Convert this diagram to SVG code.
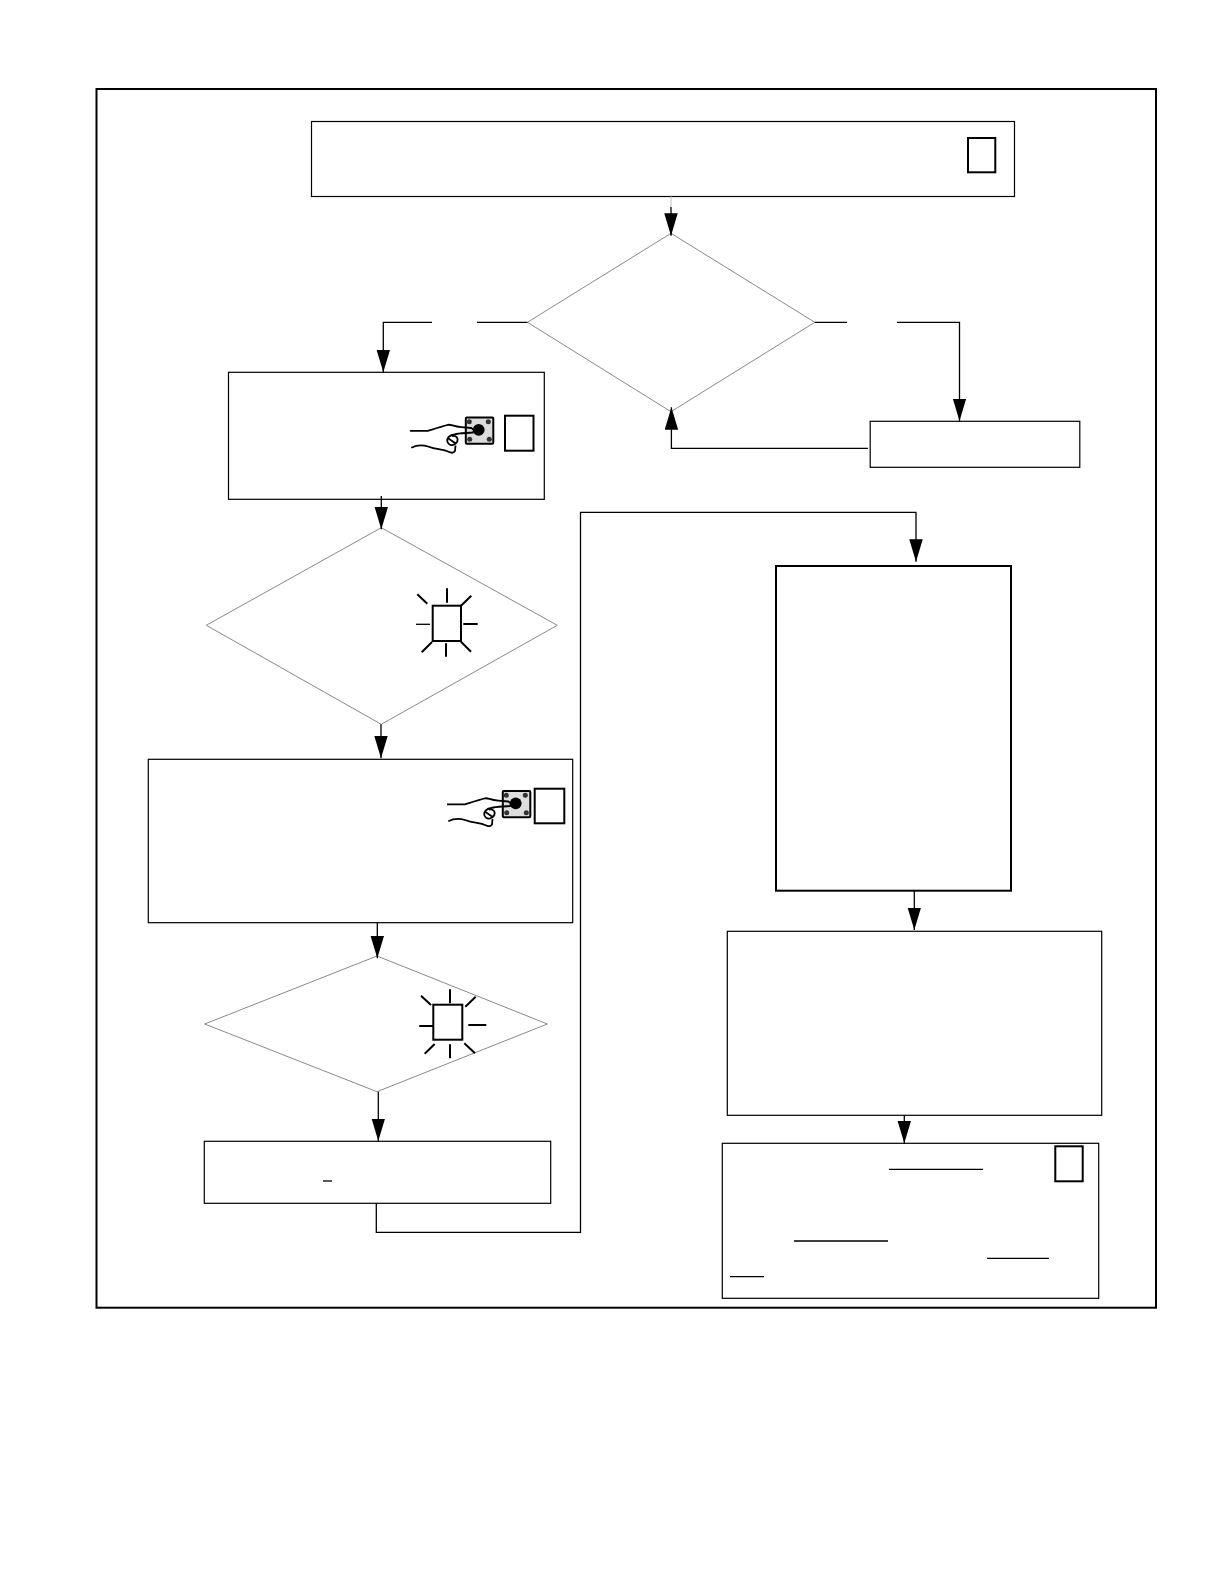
<svg xmlns="http://www.w3.org/2000/svg" width="1225" height="1585" viewBox="0 0 1225 1585">
<style>
.n{fill:#fff;stroke:#000;stroke-width:1.200}
.d{fill:#fff;stroke:#8a8a8a;stroke-width:1}
.c{fill:none;stroke:#000;stroke-width:1.300}
.b{fill:#fff;stroke:#000;stroke-width:2}
.u{stroke:#000;stroke-width:1.300;fill:none}
.y{stroke:#000;stroke-width:2;fill:none}
</style>
<defs>
<marker id="a" markerUnits="userSpaceOnUse" markerWidth="23" markerHeight="14" refX="22.500" refY="6.750" orient="auto" viewBox="0 0 23 14"><path d="M0 0L22.500 6.750L0 13.500Z" fill="#000"/></marker>
<g id="hand">
<rect x="502.800" y="791" width="27.500" height="26.300" rx="1" fill="#ddd" stroke="#000" stroke-width="2"/>
<circle cx="515.700" cy="803.300" r="5.900" fill="#000"/>
<circle cx="506.300" cy="795.300" r="2.500" fill="#333"/><circle cx="525.300" cy="795.300" r="2.500" fill="#333"/><circle cx="506.700" cy="812.700" r="2.500" fill="#333"/><circle cx="526.300" cy="812.700" r="2.500" fill="#333"/>
<path d="M447 804.300H465C470 802.700 480 799.300 485 798.300C488.300 797.700 490 800 498.300 800.700L508.300 801.500L511 803.500L510 806C503.300 806.700 495 806.500 491.700 808C486.700 808.300 483.300 811.700 484.500 815.500C486.500 820 491.700 819.300 494.300 815C495.500 811.700 493.300 808.500 489 809.500M485.500 812L492 816.500M448.300 821.300C453.300 818.700 458.300 818 465 820C473.300 823.300 480 822.700 485 825C488.300 826.700 490.500 827 492 824.500L492.500 819" fill="none" stroke="#000" stroke-width="1.800"/>
</g>
</defs>
<rect id="frame" x="96.500" y="89" width="1059.500" height="1218.700" fill="none" stroke="#000" stroke-width="2"/>
<g id="n1"><rect class="n" x="311.500" y="121.500" width="703" height="75"/><rect class="b" x="968" y="138" width="27.300" height="34.300"/></g>
<g id="n2"><path class="d" d="M671 233.300L814.800 322.300L671 411.700L527.400 322.300Z"/></g>
<g id="n3"><rect class="n" x="228.500" y="372.300" width="315.800" height="127"/><use href="#hand" x="-37" y="-373.500"/><rect class="b" x="505" y="415.700" width="28.500" height="35"/></g>
<g id="n4"><rect class="n" x="870.200" y="421.300" width="209.600" height="46"/></g>
<g id="n5"><path class="d" d="M381.300 527.700L557.300 625.300L381.300 724.300L206.300 625.300Z"/><rect class="b" x="432.700" y="605.700" width="28.300" height="35.300"/><path class="y" d="M447 588.300V602.700M417.300 594.300L427.300 603.700M471.300 595.700L461 605.700M463.300 624H477.700M421.700 652.300L432 642M446 643.300V656.700M471 651.700L461 641.700"/><path class="u" d="M416 624.300H430"/></g>
<g id="n6"><rect class="n" x="148.300" y="759.300" width="424.400" height="163.400"/><use href="#hand"/><rect class="b" x="534.700" y="788.700" width="29.600" height="34.600"/></g>
<g id="n7"><path class="d" d="M377 956L547.300 1024L377 1091.700L204.700 1024Z"/><rect class="b" x="433.300" y="1004.700" width="29" height="35"/><path class="y" d="M450 989.300V1003.300M421 995.700L431 1005M475.700 996.700L465.300 1006.700M419.300 1026H433.300M468.300 1025H486.300M424.700 1053.700L434.700 1044M450 1044.300V1058.300M464.300 1043.300L475 1053.300"/></g>
<g id="n8"><rect class="n" x="204.300" y="1141.300" width="346.400" height="62"/><path class="u" d="M323 1181H332"/></g>
<g id="n9"><rect x="776" y="566" width="235" height="324.700" fill="#fff" stroke="#000" stroke-width="2"/></g>
<g id="n10"><rect class="n" x="727.300" y="931.300" width="374.400" height="184"/></g>
<g id="n11"><rect class="n" x="722.300" y="1143.300" width="376.400" height="155"/><rect class="b" x="1055.300" y="1146.300" width="27.400" height="35"/><path class="u" d="M889 1169.300H983M794 1241H888M987 1258.300H1049M730 1276.700H764"/></g>
<g id="connectors">
<path d="M671 196.500V207" fill="none" stroke="#ccc" stroke-width="1.200"/>
<path class="c" d="M671 207V235.700" marker-end="url(#a)"/>
<path class="c" d="M527.400 322.300H477M432 322.300H383.300V372.300" marker-end="url(#a)"/>
<path class="c" d="M814.800 322.300H847M897 322.300H959.500V421" marker-end="url(#a)"/>
<path class="c" d="M868 448.300H671.400V407.300" marker-end="url(#a)"/>
<path class="c" d="M381.300 496V529.300" marker-end="url(#a)"/>
<path class="c" d="M381 724.300V758.300" marker-end="url(#a)"/>
<path class="c" d="M377.300 922.700V958.300" marker-end="url(#a)"/>
<path class="c" d="M378.300 1091.700V1141" marker-end="url(#a)"/>
<path class="c" d="M376.300 1203.300V1232.300H580.500V512.300H916V561.700" marker-end="url(#a)"/>
<path class="c" d="M914.300 890.700V930" marker-end="url(#a)"/>
<path class="c" d="M904.300 1115.300V1143.300" marker-end="url(#a)"/>
</g>
</svg>
